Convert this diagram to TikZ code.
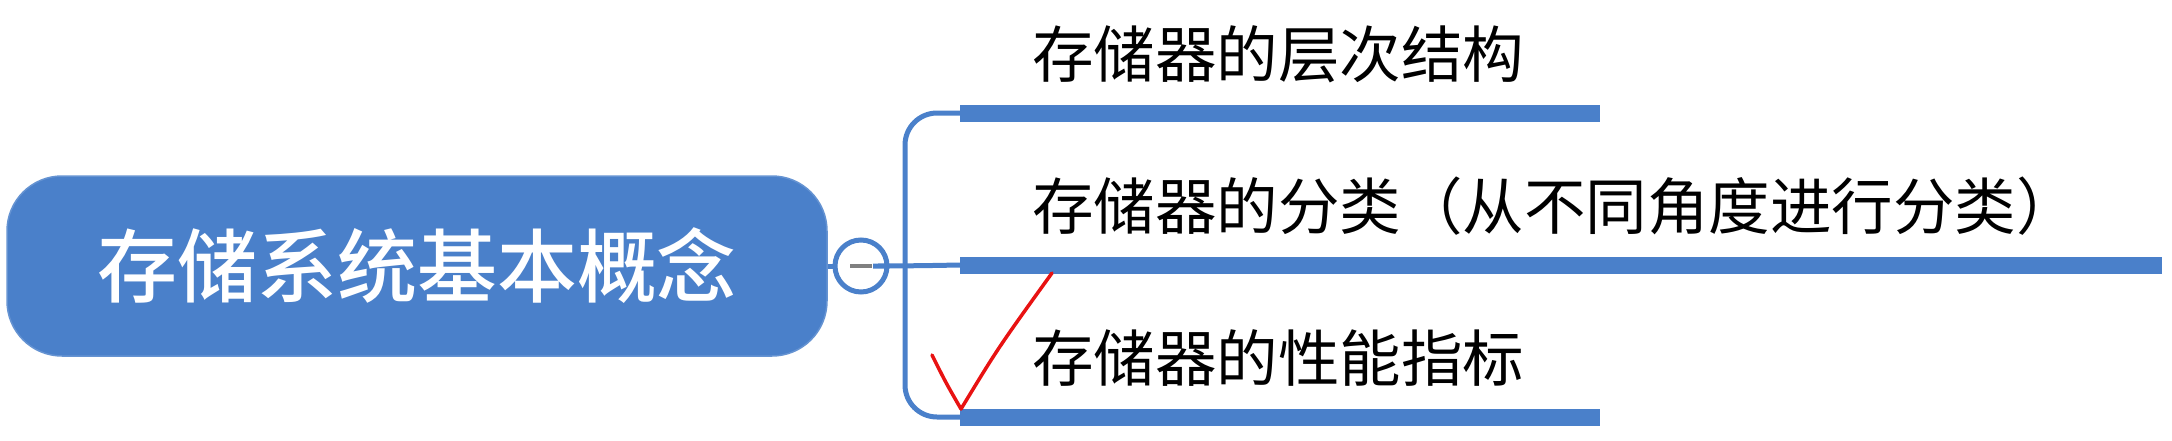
\documentclass[tikz,border=0pt]{standalone}
\usepackage{fontspec}
\newfontfamily\cjk{Noto Sans CJK SC}
\newfontfamily\cjkmed{Noto Sans CJK SC Medium}
\usetikzlibrary{calc}
\definecolor{mapblue}{RGB}{74,128,202}
\definecolor{markred}{RGB}{232,18,18}

\begin{document}
\begin{tikzpicture}[x=1pt, y=-1pt,
root/.style={rectangle, rounded corners=55pt, fill=mapblue, draw=mapblue!85!white, line width=1.5pt,
      minimum width=820pt, minimum height=180pt, inner sep=0pt,
      text=white, font=\cjkmed\fontsize{80}{80}\selectfont},
toggle/.style={circle, draw=mapblue, line width=5pt, fill=white, minimum size=52pt, inner sep=0pt},
topic/.style={anchor=west, inner sep=0pt, font=\cjk\fontsize{61.5}{62}\selectfont},
branch/.style={draw=mapblue, line width=5pt, rounded corners=32pt},
bar/.style={draw=mapblue, line width=17pt},]
 \useasboundingbox (0,0) rectangle (2172,440);

 \node[root] (root) at (417,266) {存储系统基本概念};
 \node[toggle] (toggle) at (861,266) {};
 \coordinate (fork) at (905,266);

 % branch bars
 \coordinate (b1) at (960,113);
 \coordinate (b2) at (960,265);
 \coordinate (b3) at (960,417);
 \coordinate (e1) at (1600,113);
 \coordinate (e2) at (2162,265);
 \coordinate (e3) at (1600,417);

 \node[topic] (t1) at (1032,54) {存储器的层次结构};
 \node[topic] (t2) at (1032,206) {存储器的分类（从不同角度进行分类）};
 \node[topic] (t3) at (1032,358) {存储器的性能指标};

 \draw[branch] (root) -- (toggle);
 \draw[branch] (toggle) -- (fork) -- (b2);
 \draw[branch] (b1) -| (fork) |- (b3);
 \draw[bar] (b1) -- (e1);
 \draw[bar] (b2) -- (e2);
 \draw[bar] (b3) -- (e3);

 % collapse sign
 \draw[gray, line width=4pt] ($(toggle)+(-11,0)$) -- ($(toggle)+(11,0)$);

 % hand drawn tick
 \draw[markred, line width=3.5pt, line cap=round, line join=round]
   (932,355) .. controls (946,383) .. (961,409) .. controls (998,348) .. (1052,273);
\end{tikzpicture}
\end{document}
